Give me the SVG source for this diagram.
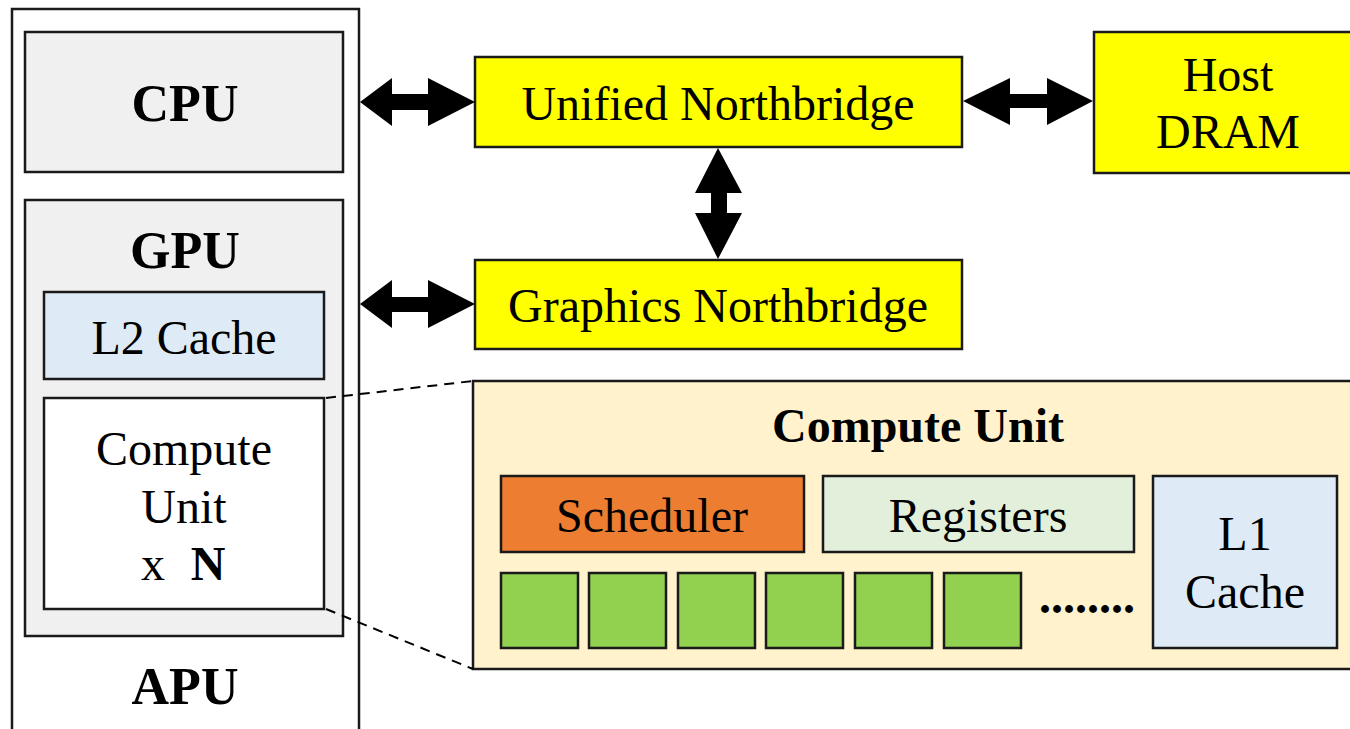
<svg xmlns="http://www.w3.org/2000/svg" width="1350" height="729" viewBox="0 0 1350 729">
  <style>
    .box { stroke: #1a1a1a; stroke-width: 2.5; }
    .t { font-family: "Liberation Serif", "Times New Roman", serif; font-size: 48px; fill: #000; text-anchor: middle; }
    .big { font-size: 52px; font-weight: bold; }
    .b { font-weight: bold; }
    .grey { fill: #f0f0f0; }
    .yellow { fill: #ffff00; }
    .blue { fill: #deebf7; }
    .green { fill: #92d050; }
    .arrow { fill: #000; }
    .dash { stroke: #000; stroke-width: 2; stroke-dasharray: 10 7; fill: none; }
  </style>
  <rect width="1350" height="729" fill="#fff"/>

  <!-- APU package -->
  <g id="apu">
    <path d="M12,729 V9 H359 V729" fill="none" stroke="#1a1a1a" stroke-width="2.5"/>
    <text class="t big" x="185" y="704">APU</text>
  </g>

  <g id="cpu">
    <rect class="box grey" x="25" y="32" width="318" height="140"/>
    <text class="t big" x="185" y="121">CPU</text>
  </g>

  <g id="gpu">
    <rect class="box grey" x="25" y="200" width="318" height="436"/>
    <text class="t big" x="185" y="268">GPU</text>
  </g>

  <g id="l2-cache">
    <rect class="box blue" x="44" y="292" width="280" height="87"/>
    <text class="t" x="184" y="354">L2 Cache</text>
  </g>

  <g id="compute-units">
    <rect class="box" fill="#fff" x="44" y="398" width="280" height="211"/>
    <text class="t" x="184" y="465">Compute</text>
    <text class="t" x="184" y="523">Unit</text>
    <text class="t" x="153" y="580">x</text>
    <text class="t b" x="208" y="580">N</text>
  </g>

  <g id="unified-northbridge">
    <rect class="box yellow" x="475" y="57" width="487" height="90"/>
    <text class="t" x="718" y="120">Unified Northbridge</text>
  </g>

  <g id="host-dram">
    <rect class="box yellow" x="1094" y="32" width="270" height="141"/>
    <text class="t" x="1228" y="91">Host</text>
    <text class="t" x="1228" y="148">DRAM</text>
  </g>

  <g id="graphics-northbridge">
    <rect class="box yellow" x="475" y="260" width="487" height="89"/>
    <text class="t" x="718" y="322">Graphics Northbridge</text>
  </g>

  <!-- expanded view of one compute unit -->
  <g id="compute-unit-detail">
    <rect class="box" fill="#fff2cc" x="473" y="381" width="890" height="288"/>
    <text class="t b" x="918" y="442">Compute Unit</text>
  </g>

  <g id="scheduler">
    <rect class="box" fill="#ed7d31" x="501" y="476" width="303" height="76"/>
    <text class="t" x="652" y="532">Scheduler</text>
  </g>

  <g id="registers">
    <rect class="box" fill="#e2efda" x="823" y="476" width="311" height="76"/>
    <text class="t" x="978" y="532">Registers</text>
  </g>

  <g id="l1-cache">
    <rect class="box blue" x="1153" y="476" width="184" height="172"/>
    <text class="t" x="1245" y="550">L1</text>
    <text class="t" x="1245" y="608">Cache</text>
  </g>

  <g id="lanes">
    <rect class="box green" x="501" y="573" width="77" height="75"/>
    <rect class="box green" x="589" y="573" width="77" height="75"/>
    <rect class="box green" x="678" y="573" width="77" height="75"/>
    <rect class="box green" x="766" y="573" width="77" height="75"/>
    <rect class="box green" x="855" y="573" width="77" height="75"/>
    <rect class="box green" x="944" y="573" width="77" height="75"/>
    <text class="t b" x="1087" y="613">........</text>
  </g>

  <g id="connectors">
    <!-- CPU <-> Unified Northbridge -->
    <polygon class="arrow" points="360,102 392,78 392,94 428,94 428,78 475,102 428,126 428,110 392,110 392,126"/>
    <!-- GPU <-> Graphics Northbridge -->
    <polygon class="arrow" points="360,304 392,280 392,297 428,297 428,280 475,304 428,328 428,312 392,312 392,328"/>
    <!-- Unified Northbridge <-> Host DRAM -->
    <polygon class="arrow" points="963,101 1010,78 1010,94 1047,94 1047,78 1093,101 1047,125 1047,108 1010,108 1010,125"/>
    <!-- Unified Northbridge <-> Graphics Northbridge -->
    <polygon class="arrow" points="718,148 742,193 727,193 727,213 742,213 718,259 695,213 711,213 711,193 695,193"/>
    <!-- zoom lines -->
    <line class="dash" x1="326" y1="398" x2="473" y2="381"/>
    <line class="dash" x1="326" y1="609" x2="473" y2="669"/>
  </g>
</svg>
